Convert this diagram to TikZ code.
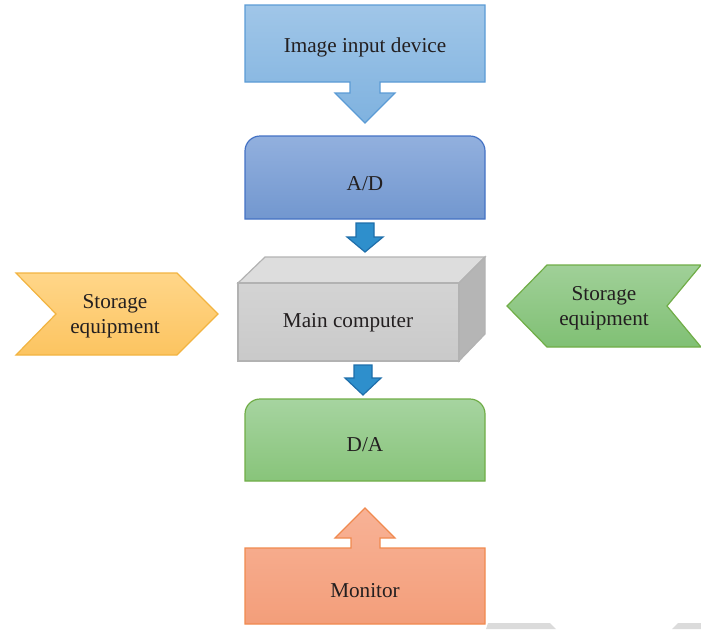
\documentclass[tikz,border=0pt]{standalone}
\usepackage{fontspec}
\setmainfont{Liberation Serif}
\definecolor{inblue}{HTML}{5B9BD5}
\definecolor{intop}{RGB}{160,198,232}
\definecolor{inbot}{RGB}{127,178,223}
\definecolor{adblue}{HTML}{4472C4}
\definecolor{adtop}{RGB}{146,176,222}
\definecolor{adbot}{RGB}{114,151,207}
\definecolor{arrblue}{HTML}{2E8FCC}
\definecolor{arrline}{RGB}{30,110,170}
\definecolor{dagreen}{HTML}{70AD47}
\definecolor{datop}{RGB}{166,212,160}
\definecolor{dabot}{RGB}{136,196,122}
\definecolor{srtop}{RGB}{160,208,152}
\definecolor{srbot}{RGB}{128,192,116}
\definecolor{storeorange}{HTML}{F2B441}
\definecolor{sltop}{RGB}{255,214,137}
\definecolor{slbot}{RGB}{252,196,96}
\definecolor{monorange}{HTML}{F08A4F}
\definecolor{montop}{RGB}{248,178,150}
\definecolor{monbot}{RGB}{243,158,122}
\definecolor{txtcol}{RGB}{35,31,32}
\tikzset{
  inputbox/.style={draw=inblue, top color=intop, bottom color=inbot},
  adbox/.style={draw=adblue, top color=adtop, bottom color=adbot},
  smallarrow/.style={draw=arrline, fill=arrblue},
  dabox/.style={draw=dagreen, top color=datop, bottom color=dabot},
  storeleft/.style={draw=storeorange, top color=sltop, bottom color=slbot},
  storeright/.style={draw=dagreen, top color=srtop, bottom color=srbot},
  monbox/.style={draw=monorange, top color=montop, bottom color=monbot},
  txt/.style={inner sep=0pt, font=\fontsize{10.6}{12.5}\selectfont, text=txtcol}
}
\begin{document}
\begin{tikzpicture}[x=0.5pt, y=-0.5pt, line width=0.6pt, line join=miter]
    \useasboundingbox (0,0) rectangle (701,629);
    % image input device with its arrow
    \draw[inputbox] (245,5)--(485,5)--(485,82)--(380,82)--(380,93)--(395,93)
        --(365,123)--(335,93)--(350,93)--(350,82)--(245,82)--cycle;
    \node[txt] (input) at (365,47) {Image input device};
    % A/D
    \draw[adbox] (245,219) [rounded corners=7.5pt] --(245,136)--(485,136)
        [sharp corners] --(485,219)--cycle;
    \node[txt] (ad) at (365,184) {A/D};
    \draw[smallarrow] (356,223)--(374,223)--(374,237)--(383,237)--(365,252)
        --(347,237)--(356,237)--cycle;
    % main computer
    \draw[draw=gray!60, fill=gray!27] (238,283)--(265,257)--(485,257)--(459,283)--cycle;
    \draw[draw=gray!60, fill=gray!58] (459,283)--(485,257)--(485,334)--(459,361)--cycle;
    \draw[draw=gray!60, top color=gray!34, bottom color=gray!42] (238,283) rectangle (459,361);
    \node[txt] (main) at (348,323) {Main computer};
    \draw[smallarrow] (354,365)--(372,365)--(372,378)--(381,378)--(363,395)
        --(345,378)--(354,378)--cycle;
    % storage equipment
    \draw[storeleft] (16,273)--(177,273)--(218,314)--(177,355)--(16,355)--(56,314)--cycle;
    \node[txt, align=center] (storeL) at (115,316) {Storage\\equipment};
    \draw[storeright] (507,306)--(547,265)--(701,265)--(667,306)--(701,347)--(547,347)--cycle;
    \node[txt, align=center] (storeR) at (604,308) {Storage\\equipment};
    % D/A
    \draw[dabox] (245,481) [rounded corners=7.5pt] --(245,399)--(485,399)
        [sharp corners] --(485,481)--cycle;
    \node[txt] (da) at (365,445) {D/A};
    % monitor with its arrow
    \draw[monbox] (245,624)--(245,548)--(351,548)--(351,538)--(335,538)--(365,508)
        --(395,538)--(380,538)--(380,548)--(485,548)--(485,624)--cycle;
    \node[txt] (monitor) at (365,591) {Monitor};
    % cut-off shapes at the lower edge
    \fill[gray!28] (488,623)--(550,623)--(556,629)--(486,629)--cycle;
    \fill[gray!28] (678,623)--(701,623)--(701,629)--(672,629)--cycle;
\end{tikzpicture}
\end{document}
